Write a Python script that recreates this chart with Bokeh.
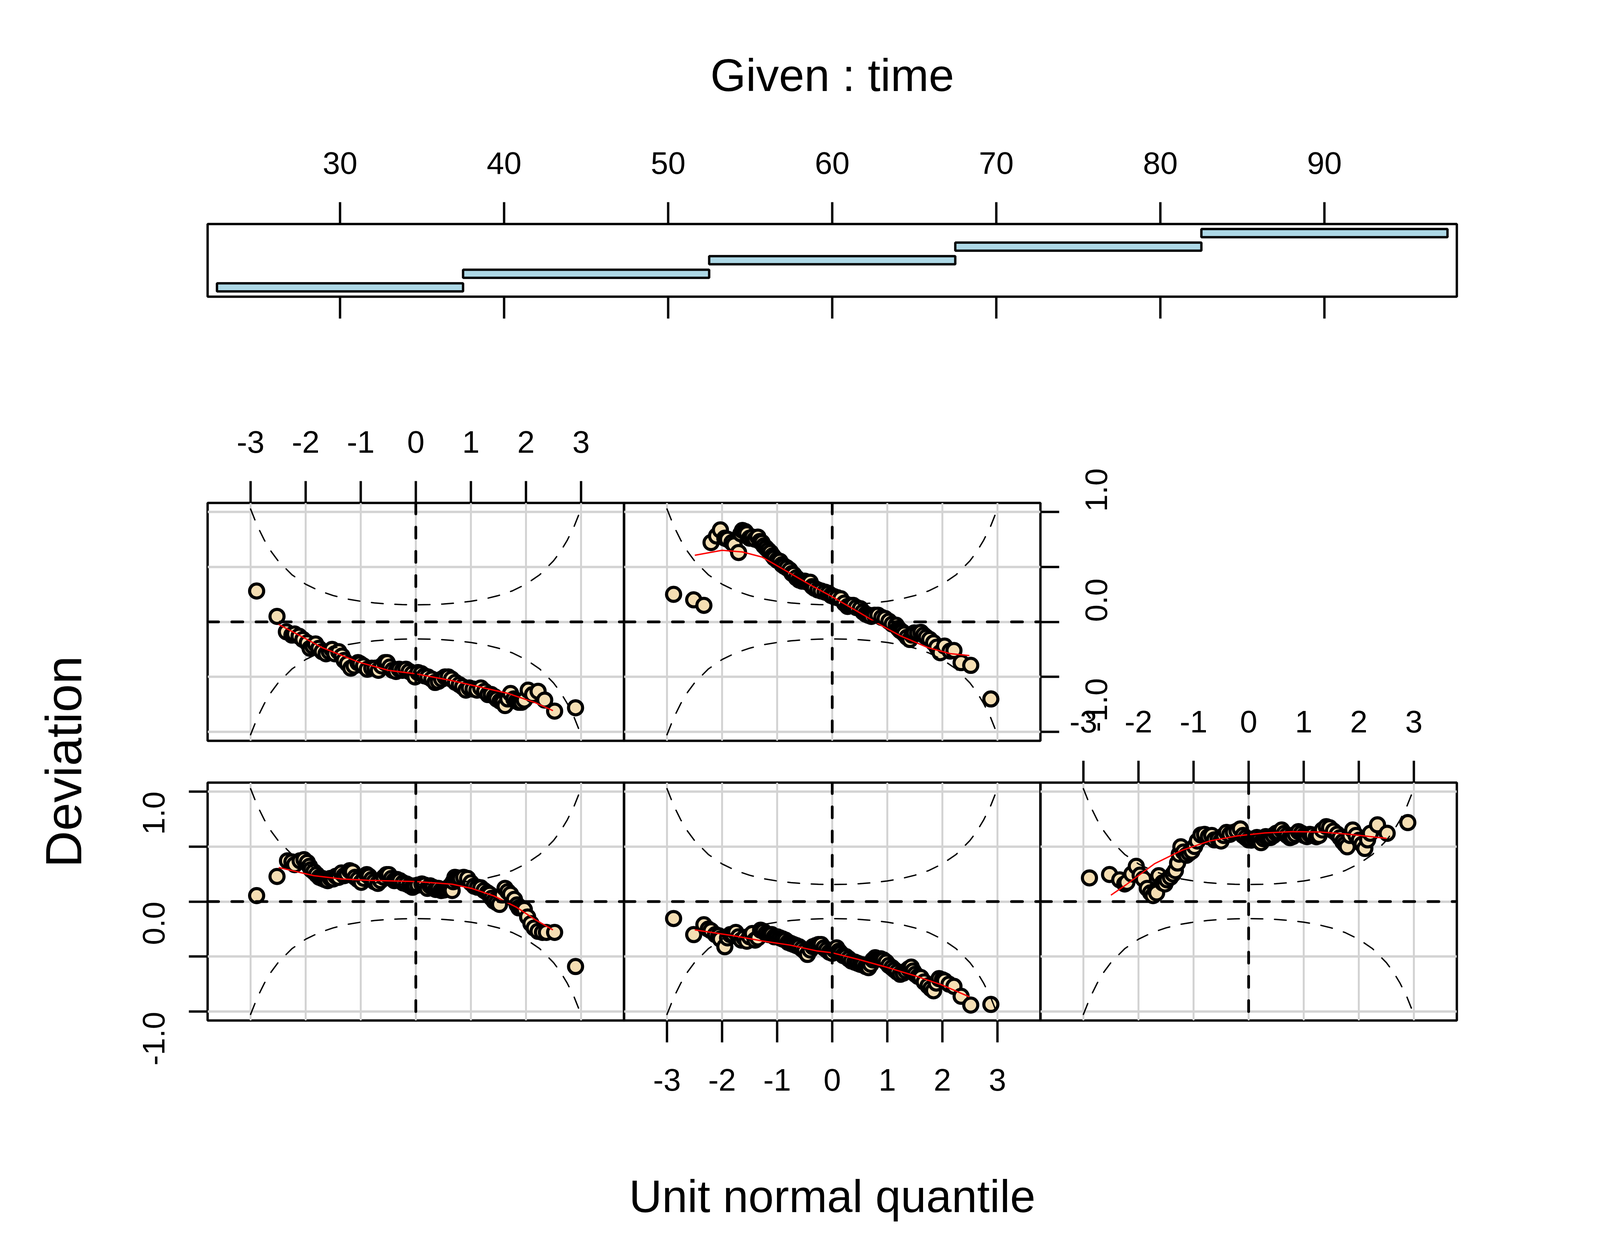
import math
from bokeh.plotting import figure
from bokeh.models import Range1d, FixedTicker, LinearAxis, Grid, Span, Column
from bokeh.embed import file_html
from bokeh.resources import INLINE

# ---------------- data ----------------
given_left = [22.5, 37.5, 52.5, 67.5, 82.5]
given_right = [37.5, 52.5, 67.5, 82.5, 97.5]
given_level = [1, 2, 3, 4, 5]
given_ticks = [30, 40, 50, 60, 70, 80, 90]

q_ticks = [-3, -2, -1, 0, 1, 2, 3]
q_labels = {-3: "-3", -2: "-2", -1: "-1", 0: "0", 1: "1", 2: "2", 3: "3"}
dev_ticks = [-1.0, -0.5, 0.0, 0.5, 1.0]
dev_labels = {1: "1.0", 0.5: "", 0: "0.0", -0.5: "", -1: "-1.0"}

# envelope half-width read at unit normal quantiles (symmetric)
env_z = [0.0, 0.25, 0.5, 0.75, 1.0, 1.25, 1.5, 1.75, 2.0, 2.25, 2.5, 2.625, 2.75, 2.875, 3.0]
env_half = [0.155, 0.157, 0.162, 0.172, 0.187, 0.208, 0.239, 0.281, 0.342, 0.428, 0.554, 0.638, 0.742, 0.868, 1.025]

# time 22.5-37.5 (bottom left)
pts_1 = [(-2.89, 0.054), (-2.52, 0.228), (-2.33, 0.37), (-2.25, 0.36), (-2.20, 0.335), (-2.10, 0.37),
         (-2.03, 0.38), (-1.97, 0.355), (-1.93, 0.32), (-1.90, 0.29), (-1.85, 0.27), (-1.80, 0.245),
         (-1.75, 0.22), (-1.70, 0.21), (-1.65, 0.20), (-1.60, 0.19), (-1.55, 0.21), (-1.50, 0.205),
         (-1.45, 0.23), (-1.40, 0.22), (-1.35, 0.26), (-1.30, 0.235), (-1.25, 0.25), (-1.20, 0.28),
         (-1.15, 0.27), (-1.10, 0.22), (-1.05, 0.20), (-0.99, 0.175), (-0.94, 0.21), (-0.89, 0.245),
         (-0.85, 0.23), (-0.80, 0.20), (-0.75, 0.18), (-0.69, 0.165), (-0.64, 0.19), (-0.58, 0.22),
         (-0.53, 0.245), (-0.49, 0.245), (-0.44, 0.21), (-0.39, 0.19), (-0.34, 0.20), (-0.29, 0.19),
         (-0.23, 0.17), (-0.17, 0.16), (-0.11, 0.145), (-0.06, 0.13), (-0.015, 0.143), (0.04, 0.15),
         (0.11, 0.16), (0.16, 0.15), (0.21, 0.12), (0.26, 0.143), (0.31, 0.13), (0.36, 0.11),
         (0.41, 0.12), (0.46, 0.10), (0.51, 0.105), (0.56, 0.112), (0.60, 0.13), (0.64, 0.15),
         (0.66, 0.10), (0.68, 0.18), (0.71, 0.22), (0.73, 0.20), (0.76, 0.215), (0.81, 0.212),
         (0.87, 0.22), (0.94, 0.21), (1.00, 0.17), (1.06, 0.14), (1.12, 0.13), (1.18, 0.125),
         (1.24, 0.10), (1.30, 0.08), (1.34, 0.066), (1.38, 0.03), (1.42, 0.005), (1.47, -0.01),
         (1.52, -0.026), (1.57, 0.06), (1.62, 0.12), (1.67, 0.09), (1.72, 0.066), (1.79, 0.02),
         (1.84, -0.03), (1.87, -0.057), (1.92, -0.06), (1.97, -0.072), (2.03, -0.14), (2.09, -0.20),
         (2.15, -0.24), (2.22, -0.27), (2.30, -0.28), (2.37, -0.28), (2.52, -0.28), (2.90, -0.59)]
fit_1 = [(-2.49, 0.309), (-1.85, 0.235), (-1.345, 0.205), (-0.84, 0.192), (0.0, 0.182), (0.66, 0.158),
         (1.01, 0.12), (1.42, 0.051), (1.82, -0.049), (2.17, -0.165), (2.49, -0.257)]

# time 37.5-52.5 (bottom middle)
pts_2 = [(-2.88, -0.154), (-2.515, -0.30), (-2.33, -0.21), (-2.25, -0.25), (-2.20, -0.265), (-2.12, -0.30),
         (-2.06, -0.31), (-2.03, -0.34), (-1.95, -0.41), (-1.90, -0.33), (-1.85, -0.30), (-1.80, -0.30),
         (-1.75, -0.28), (-1.70, -0.32), (-1.65, -0.35), (-1.60, -0.33), (-1.55, -0.36), (-1.50, -0.32),
         (-1.45, -0.29), (-1.40, -0.35), (-1.35, -0.33), (-1.30, -0.26), (-1.25, -0.27), (-1.20, -0.29),
         (-1.15, -0.30), (-1.10, -0.30), (-1.05, -0.32), (-1.00, -0.32), (-0.95, -0.33), (-0.90, -0.34),
         (-0.85, -0.35), (-0.80, -0.37), (-0.75, -0.38), (-0.70, -0.39), (-0.65, -0.40), (-0.60, -0.41),
         (-0.55, -0.43), (-0.50, -0.45), (-0.45, -0.48), (-0.40, -0.44), (-0.35, -0.41), (-0.30, -0.40),
         (-0.25, -0.39), (-0.20, -0.39), (-0.15, -0.42), (-0.10, -0.44), (-0.05, -0.46), (0.00, -0.47),
         (0.04, -0.44), (0.08, -0.42), (0.12, -0.45), (0.156, -0.47), (0.20, -0.49), (0.25, -0.50),
         (0.30, -0.52), (0.35, -0.54), (0.41, -0.55), (0.46, -0.56), (0.51, -0.57), (0.557, -0.575),
         (0.61, -0.59), (0.66, -0.60), (0.70, -0.57), (0.74, -0.53), (0.78, -0.51), (0.83, -0.52),
         (0.88, -0.52), (0.93, -0.53), (0.98, -0.55), (1.03, -0.58), (1.085, -0.60), (1.13, -0.62),
         (1.18, -0.64), (1.235, -0.66), (1.29, -0.65), (1.34, -0.63), (1.39, -0.61), (1.435, -0.595),
         (1.47, -0.63), (1.51, -0.66), (1.56, -0.68), (1.61, -0.69), (1.67, -0.73), (1.74, -0.765),
         (1.79, -0.79), (1.84, -0.81), (1.89, -0.74), (1.94, -0.70), (2.00, -0.71), (2.04, -0.72),
         (2.12, -0.75), (2.21, -0.77), (2.34, -0.86), (2.515, -0.94), (2.88, -0.934)]
fit_2 = [(-2.495, -0.257), (-1.78, -0.311), (-1.275, -0.357), (-0.77, -0.395), (-0.27, -0.449), (0.0, -0.465),
         (0.48, -0.526), (0.98, -0.595), (1.49, -0.672), (1.99, -0.757), (2.49, -0.865)]

# time 52.5-67.5 (bottom right)
pts_3 = [(-2.89, 0.215), (-2.525, 0.246), (-2.34, 0.197), (-2.25, 0.16), (-2.21, 0.174), (-2.12, 0.25),
         (-2.04, 0.32), (-1.97, 0.24), (-1.91, 0.205), (-1.84, 0.12), (-1.78, 0.08), (-1.735, 0.054),
         (-1.69, 0.10), (-1.67, 0.078), (-1.63, 0.235), (-1.56, 0.17), (-1.52, 0.16), (-1.48, 0.197),
         (-1.42, 0.22), (-1.37, 0.25), (-1.33, 0.28), (-1.29, 0.35), (-1.26, 0.43), (-1.23, 0.497),
         (-1.18, 0.45), (-1.13, 0.42), (-1.08, 0.44), (-1.03, 0.458), (-0.98, 0.50), (-0.93, 0.55),
         (-0.865, 0.605), (-0.80, 0.61), (-0.73, 0.59), (-0.67, 0.60), (-0.62, 0.56), (-0.553, 0.566),
         (-0.50, 0.55), (-0.45, 0.60), (-0.40, 0.628), (-0.34, 0.61), (-0.277, 0.628), (-0.21, 0.64),
         (-0.15, 0.66), (-0.10, 0.60), (-0.05, 0.58), (0.00, 0.56), (0.05, 0.558), (0.10, 0.57),
         (0.15, 0.582), (0.19, 0.56), (0.226, 0.535), (0.27, 0.57), (0.31, 0.59), (0.36, 0.58),
         (0.40, 0.582), (0.45, 0.60), (0.50, 0.62), (0.55, 0.63), (0.60, 0.65), (0.65, 0.62),
         (0.70, 0.60), (0.75, 0.58), (0.80, 0.59), (0.85, 0.61), (0.905, 0.635), (0.96, 0.62),
         (1.01, 0.60), (1.06, 0.59), (1.11, 0.61), (1.16, 0.605), (1.23, 0.589), (1.28, 0.60),
         (1.34, 0.65), (1.41, 0.68), (1.47, 0.67), (1.54, 0.64), (1.61, 0.612), (1.66, 0.58),
         (1.71, 0.543), (1.75, 0.52), (1.79, 0.497), (1.84, 0.60), (1.89, 0.65), (1.95, 0.60),
         (2.01, 0.558), (2.06, 0.52), (2.11, 0.482), (2.16, 0.56), (2.21, 0.62), (2.34, 0.697),
         (2.515, 0.62), (2.89, 0.717)]
fit_3 = [(-2.50, 0.058), (-2.21, 0.158), (-1.71, 0.343), (-1.21, 0.466), (-0.70, 0.551), (-0.20, 0.597),
         (0.30, 0.623), (0.80, 0.635), (1.31, 0.631), (1.81, 0.612), (2.505, 0.574)]

# time 67.5-82.5 (top left)
pts_4 = [(-2.89, 0.28), (-2.52, 0.05), (-2.35, -0.09), (-2.25, -0.12), (-2.20, -0.11), (-2.12, -0.13),
         (-2.05, -0.16), (-1.97, -0.19), (-1.92, -0.24), (-1.87, -0.22), (-1.82, -0.20), (-1.76, -0.24),
         (-1.70, -0.27), (-1.63, -0.29), (-1.57, -0.27), (-1.52, -0.25), (-1.47, -0.29), (-1.40, -0.27),
         (-1.34, -0.31), (-1.30, -0.35), (-1.24, -0.38), (-1.18, -0.42), (-1.12, -0.40), (-1.05, -0.37),
         (-1.01, -0.38), (-0.95, -0.40), (-0.88, -0.43), (-0.80, -0.42), (-0.74, -0.42), (-0.68, -0.44),
         (-0.62, -0.40), (-0.56, -0.37), (-0.52, -0.37), (-0.47, -0.41), (-0.42, -0.44), (-0.36, -0.45),
         (-0.30, -0.43), (-0.24, -0.44), (-0.18, -0.43), (-0.12, -0.45), (-0.06, -0.47), (-0.015, -0.50),
         (0.04, -0.46), (0.10, -0.47), (0.16, -0.49), (0.22, -0.50), (0.29, -0.52), (0.35, -0.55),
         (0.41, -0.54), (0.47, -0.52), (0.53, -0.50), (0.59, -0.50), (0.65, -0.52), (0.72, -0.55),
         (0.79, -0.57), (0.85, -0.59), (0.91, -0.62), (0.97, -0.60), (1.04, -0.61), (1.11, -0.62),
         (1.18, -0.60), (1.25, -0.63), (1.31, -0.66), (1.37, -0.66), (1.43, -0.68), (1.47, -0.70),
         (1.53, -0.72), (1.58, -0.73), (1.62, -0.76), (1.67, -0.70), (1.72, -0.65), (1.78, -0.70),
         (1.83, -0.72), (1.87, -0.73), (1.92, -0.73), (1.97, -0.71), (2.04, -0.62), (2.12, -0.66),
         (2.22, -0.63), (2.34, -0.71), (2.52, -0.81), (2.90, -0.78)]
fit_4 = [(-2.49, -0.023), (-2.10, -0.126), (-1.70, -0.234), (-1.04, -0.365), (-0.50, -0.44), (0.0, -0.472),
         (0.66, -0.534), (1.67, -0.649), (2.17, -0.734), (2.49, -0.806)]

# time 82.5-97.5 (top middle)
pts_5 = [(-2.88, 0.25), (-2.515, 0.20), (-2.33, 0.15), (-2.20, 0.72), (-2.10, 0.78), (-2.03, 0.835),
         (-1.95, 0.76), (-1.90, 0.75), (-1.82, 0.72), (-1.78, 0.70), (-1.70, 0.63), (-1.66, 0.80),
         (-1.63, 0.83), (-1.58, 0.82), (-1.55, 0.80), (-1.50, 0.76), (-1.45, 0.77), (-1.40, 0.75),
         (-1.35, 0.77), (-1.31, 0.73), (-1.275, 0.72), (-1.24, 0.69), (-1.20, 0.67), (-1.16, 0.65),
         (-1.12, 0.63), (-1.08, 0.60), (-1.05, 0.58), (-1.00, 0.56), (-0.95, 0.55), (-0.91, 0.52),
         (-0.87, 0.505), (-0.82, 0.49), (-0.77, 0.47), (-0.73, 0.44), (-0.70, 0.43), (-0.65, 0.40),
         (-0.60, 0.38), (-0.55, 0.37), (-0.50, 0.37), (-0.45, 0.36), (-0.40, 0.36), (-0.36, 0.32),
         (-0.32, 0.305), (-0.26, 0.29), (-0.20, 0.28), (-0.13, 0.27), (-0.07, 0.26), (-0.02, 0.24),
         (0.03, 0.23), (0.09, 0.22), (0.156, 0.21), (0.22, 0.17), (0.28, 0.14), (0.33, 0.15),
         (0.38, 0.15), (0.44, 0.13), (0.51, 0.12), (0.56, 0.09), (0.61, 0.07), (0.66, 0.06),
         (0.71, 0.05), (0.77, 0.06), (0.83, 0.06), (0.90, 0.04), (0.96, 0.03), (1.03, 0.005),
         (1.09, -0.02), (1.16, -0.03), (1.20, -0.06), (1.235, -0.08), (1.27, -0.09), (1.31, -0.11),
         (1.36, -0.14), (1.41, -0.16), (1.45, -0.12), (1.49, -0.10), (1.55, -0.10), (1.61, -0.095),
         (1.66, -0.12), (1.71, -0.14), (1.77, -0.16), (1.84, -0.19), (1.90, -0.23), (1.96, -0.28),
         (2.04, -0.22), (2.14, -0.265), (2.21, -0.26), (2.34, -0.37), (2.515, -0.395), (2.88, -0.70)]
fit_5 = [(-2.495, 0.605), (-2.0, 0.65), (-1.63, 0.635), (-1.275, 0.589), (-0.77, 0.443), (-0.37, 0.328),
         (0.0, 0.228), (0.48, 0.089), (0.83, -0.015), (1.235, -0.126), (1.74, -0.234), (2.14, -0.288),
         (2.49, -0.306)]

# ---------------- layout / style (CSS px) ----------------
W, H = 4080, 3184
FONT = "Liberation Sans"
TICK_PX = "80px"
PW, PH = 1066, 609
COL = [531, 1597, 2663]
ROW_TOP, ROW_BOT = 1287, 2003
G_TOP, G_H = 573, 186
X_RANGE = (-3.78, 3.78)
Y_RANGE = (-1.08, 1.08)
TICK_OUT = {"above": 56, "below": 56, "left": 48, "right": 48}
STANDOFF = {"above": 73, "below": 68, "left": 90, "right": 95}
LW = 6


def base_fig(left, top, fw, fh, xr, yr):
    p = figure(width=W, height=H, x_range=Range1d(*xr), y_range=Range1d(*yr),
               x_axis_type=None, y_axis_type=None, output_backend="svg",
               toolbar_location=None, min_border_left=left, min_border_top=top,
               min_border_right=W - left - fw, min_border_bottom=H - top - fh)
    p.frame_align = False
    p.background_fill_color = None
    p.border_fill_color = None
    p.outline_line_color = "black"
    p.outline_line_width = LW
    return p


def style_axis(ax, side, ticks, overrides=None, orient="horizontal"):
    ax.ticker = FixedTicker(ticks=ticks)
    ax.axis_line_color = None
    ax.major_tick_out = TICK_OUT[side]
    ax.major_tick_in = 0
    ax.major_tick_line_width = LW
    ax.major_tick_line_color = "black"
    ax.minor_tick_line_color = None
    ax.major_label_text_font = FONT
    ax.major_label_text_font_size = TICK_PX
    ax.major_label_text_color = "black"
    ax.major_label_standoff = STANDOFF[side]
    ax.major_label_orientation = orient
    if overrides is not None:
        ax.major_label_overrides = overrides
    return ax


env_x = [-z for z in reversed(env_z)] + env_z[1:]
env_up = list(reversed(env_half)) + env_half[1:]
env_lo = [-v for v in env_up]


def panel(left, top, pts, fit, side):
    p = base_fig(left, top, PW, PH, X_RANGE, Y_RANGE)
    p.add_layout(Grid(dimension=0, ticker=FixedTicker(ticks=q_ticks),
                      grid_line_color="#d3d3d3", grid_line_width=5))
    p.add_layout(Grid(dimension=1, ticker=FixedTicker(ticks=dev_ticks),
                      grid_line_color="#d3d3d3", grid_line_width=6))
    xs = [a for a, b in pts]
    ys = [b for a, b in pts]
    p.scatter(xs, ys, size=36, fill_color="#f5deb3", line_color="black", line_width=8)
    for dim in ("width", "height"):
        s = Span(location=0, dimension=dim, line_color="black", line_width=7,
                 line_dash="28 34", line_cap="round")
        s.level = "glyph"
        p.add_layout(s)
    p.line(env_x, env_up, line_color="black", line_width=3.5, line_dash="30 30", line_cap="round")
    p.line(env_x, env_lo, line_color="black", line_width=3.5, line_dash="30 30", line_cap="round")
    p.line([a for a, b in fit], [b for a, b in fit], line_color="red", line_width=3.5)
    if side in ("above", "below"):
        ax = style_axis(LinearAxis(), side, q_ticks, q_labels)
    else:
        ax = style_axis(LinearAxis(), side, dev_ticks, dev_labels, math.pi / 2)
    p.add_layout(ax, side)
    return p


figs = []

# conditioning panel
g = base_fig(COL[0], G_TOP, 3 * PW, G_H, (21.93, 98.07), (0.31, 5.67))
g.quad(left=given_left, right=given_right,
       bottom=[v - 0.3 for v in given_level], top=[v + 0.3 for v in given_level],
       fill_color="#add8e6", line_color="black", line_width=LW)
g.add_layout(style_axis(LinearAxis(), "above", given_ticks), "above")
g.add_layout(style_axis(LinearAxis(), "below", given_ticks, {t: "" for t in given_ticks}), "below")
figs.append(g)

figs.append(panel(COL[0], ROW_BOT, pts_1, fit_1, "left"))
figs.append(panel(COL[1], ROW_BOT, pts_2, fit_2, "below"))
figs.append(panel(COL[2], ROW_BOT, pts_3, fit_3, "above"))
figs.append(panel(COL[0], ROW_TOP, pts_4, fit_4, "above"))
figs.append(panel(COL[1], ROW_TOP, pts_5, fit_5, "right"))


def label_axis(text, standoff, size):
    ax = LinearAxis(ticker=FixedTicker(ticks=[]), axis_label=text)
    ax.axis_line_color = None
    ax.major_tick_out = 0
    ax.major_tick_in = 0
    ax.minor_tick_line_color = None
    ax.major_label_standoff = 0
    ax.axis_label_standoff = standoff
    ax.axis_label_text_font = FONT
    ax.axis_label_text_font_size = size
    ax.axis_label_text_font_style = "normal"
    ax.axis_label_text_color = "black"
    return ax


lab = base_fig(COL[0], ROW_TOP, 3 * PW, ROW_BOT + PH - ROW_TOP, (0, 1), (0, 1))
lab.outline_line_color = None
lab.add_layout(label_axis("Deviation", 296, "130px"), "left")
lab.add_layout(label_axis("Unit normal quantile", 384, "117px"), "below")
figs.append(lab)

tit = base_fig(COL[0], 400, 3 * PW, 100, (0, 1), (0, 1))
tit.outline_line_color = None
tit.add_layout(label_axis("Given : time", 143, "117px"), "above")
figs.append(tit)

# stack all full-page figures on top of each other (transparent backgrounds)
for i, f in enumerate(figs):
    f.margin = (0, 0, 0, 0) if i == 0 else (-H, 0, 0, 0)

layout = Column(children=figs, width=W, height=H, spacing=0)

open("out.html", "w").write(file_html(layout, INLINE))
